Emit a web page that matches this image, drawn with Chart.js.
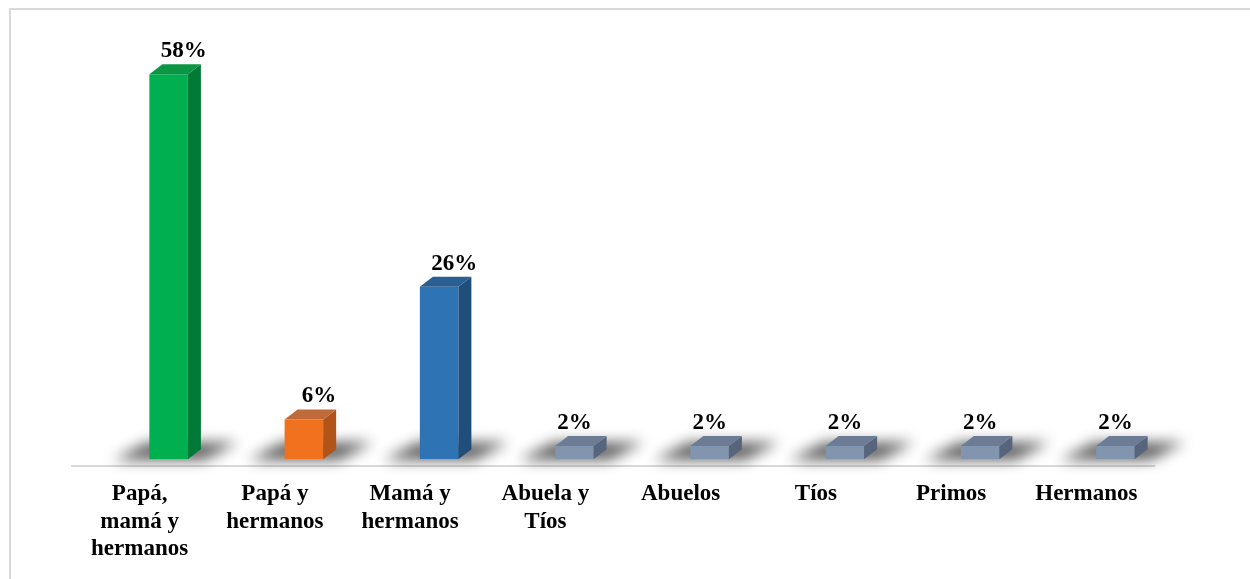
<!DOCTYPE html>
<html>
<head>
<meta charset="utf-8">
<script src="https://cdn.jsdelivr.net/npm/chart.js@4.4.1/dist/chart.umd.min.js"></script>
<style>
  html, body { margin: 0; padding: 0; background: #fff; }
  #wrap { position: relative; width: 1250px; height: 579px; }
  #frame { position: absolute; left: 9px; top: 8px; right: 0; bottom: 0;
           border-left: 2px solid #d9d9d9; border-top: 2px solid #d9d9d9; }
  canvas { position: absolute; left: 0; top: 0; }
</style>
</head>
<body>
<div id="wrap">
  <div id="frame"></div>
  <canvas id="chart" width="1250" height="579"></canvas>
</div>
<script>
const categories = [
  ['Papá,', 'mamá y', 'hermanos'],
  ['Papá y', 'hermanos'],
  ['Mamá y', 'hermanos'],
  ['Abuela y', 'Tíos'],
  'Abuelos',
  'Tíos',
  'Primos',
  'Hermanos'
];
const values = [58, 6, 26, 2, 2, 2, 2, 2];

// front (top/bottom of gradient), side and top colours for each bar
const frontTop = ['#00b050', '#f68c4e', '#3079bb', '#8699b2', '#8699b2', '#8699b2', '#8699b2', '#8699b2'];
const frontBottom = ['#00b050', '#f0721f', '#2e73b3', '#8295ae', '#8295ae', '#8295ae', '#8295ae', '#8295ae'];
const sideColors = ['#007a36', '#b0541a', '#1f4e7a', '#56657c', '#56657c', '#56657c', '#56657c', '#56657c'];
const topColors = ['#0a9645', '#c0693a', '#2a5f92', '#6b7c94', '#6b7c94', '#6b7c94', '#6b7c94', '#6b7c94'];

const SHIFT_X = 29, SHIFT_Y = -7;   // bars sit back from the floor edge
const DX = 13, DY = 10;             // depth of the 3d faces

const frontFill = (c) => {
  const bar = c.element;
  if (!bar || bar.y === undefined || isNaN(bar.y)) return frontBottom[c.dataIndex];
  const g = c.chart.ctx.createLinearGradient(0, bar.y, 0, bar.base);
  g.addColorStop(0, frontTop[c.dataIndex]);
  g.addColorStop(1, frontBottom[c.dataIndex]);
  return g;
};

const bars3d = {
  id: 'bars3d',
  beforeDatasetsDraw(chart) {
    const ctx = chart.ctx;
    ctx.save();
    ctx.translate(SHIFT_X, SHIFT_Y);
    // soft floor shadows
    chart.getDatasetMeta(0).data.forEach((bar) => {
      const l = bar.x - bar.width / 2, r = bar.x + bar.width / 2, b = bar.base;
      ctx.save();
      ctx.filter = 'blur(7px)';
      ctx.fillStyle = 'rgba(0,0,0,0.62)';
      ctx.beginPath();
      ctx.moveTo(l - 36, b + 1);
      ctx.lineTo(r + 16, b + 1);
      ctx.lineTo(r + 50, b - 17);
      ctx.lineTo(l - 2, b - 17);
      ctx.closePath();
      ctx.fill();
      ctx.restore();
    });
  },
  afterDatasetsDraw(chart) {
    const ctx = chart.ctx;
    chart.getDatasetMeta(0).data.forEach((bar, i) => {
      const l = bar.x - bar.width / 2, r = bar.x + bar.width / 2;
      const t = bar.y, b = bar.base;
      ctx.fillStyle = sideColors[i];
      ctx.beginPath();
      ctx.moveTo(r, t);
      ctx.lineTo(r + DX, t - DY);
      ctx.lineTo(r + DX, b - DY);
      ctx.lineTo(r, b);
      ctx.closePath();
      ctx.fill();
      ctx.fillStyle = topColors[i];
      ctx.beginPath();
      ctx.moveTo(l, t);
      ctx.lineTo(l + DX, t - DY);
      ctx.lineTo(r + DX, t - DY);
      ctx.lineTo(r, t);
      ctx.closePath();
      ctx.fill();
      // value label: tall bars get it nudged over the depth, flat ones sit centred
      const nudge = values[i] > 5 ? DX + 2 : 0;
      ctx.fillStyle = '#000';
      ctx.font = 'bold 23px "Liberation Serif", "Times New Roman", serif';
      ctx.textAlign = 'center';
      ctx.textBaseline = 'alphabetic';
      ctx.fillText(values[i] + '%', bar.x + nudge, t - DY - 7);
    });
    ctx.restore();
  }
};

new Chart(document.getElementById('chart'), {
  type: 'bar',
  data: {
    labels: categories,
    datasets: [{
      data: values,
      backgroundColor: frontFill,
      borderWidth: 0,
      barPercentage: 0.285,
      categoryPercentage: 1
    }]
  },
  options: {
    responsive: false,
    animation: false,
    events: [],
    layout: { padding: { left: 72, right: 96, top: 68, bottom: 2 } },
    plugins: { legend: { display: false }, tooltip: { enabled: false } },
    scales: {
      x: {
        grid: { display: false, drawTicks: false },
        border: { display: true, color: '#d9d9d9', width: 2 },
        ticks: {
          color: '#000',
          maxRotation: 0,
          autoSkip: false,
          padding: 14,
          font: { family: '"Liberation Serif", "Times New Roman", serif', size: 23, weight: 'bold', lineHeight: 1.2 }
        }
      },
      y: { display: false, min: 0, max: 60 }
    }
  },
  plugins: [bars3d]
});
</script>
</body>
</html>
